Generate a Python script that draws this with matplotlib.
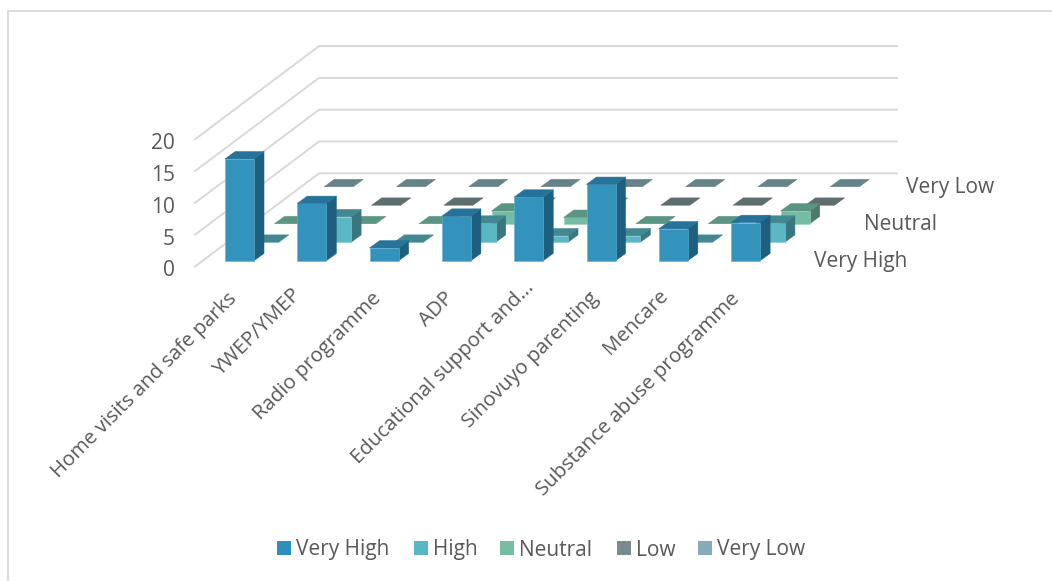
import numpy as np
import matplotlib
matplotlib.use('Agg')
import matplotlib.pyplot as plt
from matplotlib.patches import Polygon, Rectangle

plt.rcParams['font.family'] = ['Open Sans', 'DejaVu Sans']

categories = ['Home visits and safe parks', 'YWEP/YMEP', 'Radio programme', 'ADP',
              'Educational support and...', 'Sinovuyo parenting', 'Mencare',
              'Substance abuse programme']
series_names = ['Very High', 'High', 'Neutral', 'Low', 'Very Low']

very_high = [16, 9, 2, 7, 10, 12, 5, 6]
high = [0, 4, 0, 3, 1, 1, 0, 3]
neutral = [0, 0, 0, 2, 1, 0, 0, 2]
low = [None, 0, 0, 0, 0, 0, 0, 0]
very_low = [0, 0, 0, 0, 0, 0, 0, 0]
series_values = [very_high, high, neutral, low, very_low]

value_ticks = [0, 5, 10, 15, 20]
depth_rows = [0, 2, 4]
depth_names = ['Very High', 'Neutral', 'Very Low']

# front, side, top colours per series
FRONT = ['#3393BD', '#5AB7C3', '#75BCA4', '#7A8B90', '#86ABB8']
EDGE = ['#62B4D6', '#7FCFD9', '#97D3BF', '#7A8B90', '#86ABB8']
SIDE = ['#1F5F7E', '#3B767E', '#4C7A6A', '#50605F', '#587A80']
TOP = ['#25739A', '#428891', '#5A9482', '#5E6E6F', '#658388']
LEGEND = ['#2E8FBD', '#59B6C3', '#76BDA4', '#7A8B90', '#86ABB8']
GRID = '#D9D9D9'
TEXT = '#595959'
SIZE = 15.0
LABEL_SIZE = 14.7

# oblique layout of the 3D box, in figure pixels
X0, Y0 = 225.0, 260.7
PITCH = 72.3
BAR_W = 29.0
ROW_DX, ROW_DY = 24.8, -18.5
BAR_DX, BAR_DY = 10.0, -7.3
UNIT = 6.36


def front_left(cat, row):
    return X0 + cat * PITCH + row * ROW_DX, Y0 + row * ROW_DY


def draw_bar(ax, cat, row, value):
    x, y = front_left(cat, row)
    h = value * UNIT
    kw = dict(linewidth=0.4, joinstyle='round', zorder=3)
    if value > 0:
        ax.add_patch(Polygon([(x + BAR_W, y), (x + BAR_W + BAR_DX, y + BAR_DY),
                              (x + BAR_W + BAR_DX, y + BAR_DY - h), (x + BAR_W, y - h)],
                             facecolor=SIDE[row], edgecolor=SIDE[row], **kw))
        ax.add_patch(Polygon([(x, y), (x + BAR_W, y), (x + BAR_W, y - h), (x, y - h)],
                             facecolor=FRONT[row], edgecolor=EDGE[row], **kw))
    ax.add_patch(Polygon([(x, y - h), (x + BAR_W, y - h),
                          (x + BAR_W + BAR_DX, y + BAR_DY - h), (x + BAR_DX, y + BAR_DY - h)],
                         facecolor=TOP[row], edgecolor=TOP[row], **kw))


fig = plt.figure(figsize=(10.52, 5.81), dpi=100)
ax = fig.add_axes([0, 0, 1, 1])
ax.set_xlim(0, 1052)
ax.set_ylim(581, 0)
ax.axis('off')

# chart frame, only the top and left edges fall inside the canvas
ax.plot([8, 8, 1052], [581, 11, 11], color=GRID, linewidth=1.3, solid_joinstyle='miter')

# walls: gridlines along the left side and across the back
wall_front_x, wall_front_y = 195.0, 266.5
wall_back_x, wall_back_y = 319.0, 173.3
wall_right_x = 897.0
for v in value_ticks:
    ax.plot([wall_front_x, wall_back_x, wall_right_x],
            [wall_front_y - v * UNIT, wall_back_y - v * UNIT, wall_back_y - v * UNIT],
            color=GRID, linewidth=1.4, solid_joinstyle='miter')
    ax.text(175, wall_front_y - v * UNIT + 10, str(v), ha='right', va='baseline',
            fontsize=SIZE, color=TEXT)

# back rows first so the front rows sit over them
for row in range(len(series_values) - 1, -1, -1):
    for cat in range(len(categories) - 1, -1, -1):
        val = series_values[row][cat]
        if val is not None:
            draw_bar(ax, cat, row, val)

depth_x = [814, 864, 905.5]
for row, name, dx in zip(depth_rows, depth_names, depth_x):
    y = front_left(0, row)[1]
    ax.text(dx, y + 5.8, name, ha='left', va='baseline', fontsize=SIZE, color=TEXT)

# rotated category labels, a few nudged along the diagonal
label_dx = [0, -8, 0, 0, 8, 0, -3, -3]
label_dy = [0, -4, 0, 0, -11, 0, -3, 0]
for cat, name in enumerate(categories):
    x, y = front_left(cat, 0)
    ax.text(x + 9 + label_dx[cat], y + 35 + label_dy[cat], name, rotation=45,
            rotation_mode='anchor', ha='right', va='center',
            fontsize=LABEL_SIZE, color=TEXT)

# legend
legend_x = [277, 414, 500, 617, 698]
for name, color, lx in zip(series_names, LEGEND, legend_x):
    ax.add_patch(Rectangle((lx, 541), 14, 14, facecolor=color, edgecolor='none'))
    ax.text(lx + 19, 555.5, name, ha='left', va='baseline', fontsize=SIZE, color=TEXT)

fig.savefig('out.png', dpi=100)
